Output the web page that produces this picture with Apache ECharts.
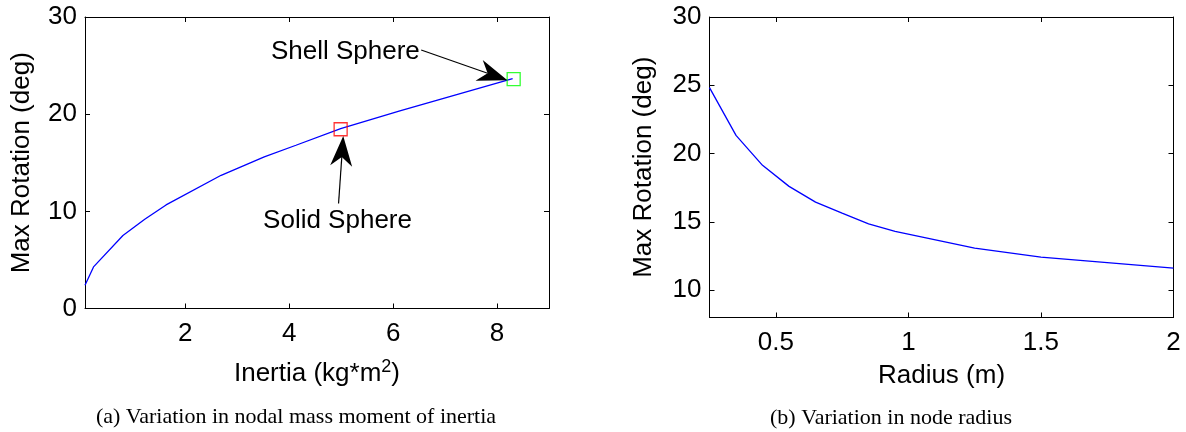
<!DOCTYPE html>
<html><head><meta charset="utf-8">
<script src="https://cdn.jsdelivr.net/npm/echarts@6/dist/echarts.min.js"></script>
<style>html,body{margin:0;padding:0;background:#fff}#c{width:1186px;height:432px}</style>
</head><body><div id="c"></div>
<script>
// ---- data ----
const inertia   = [0.07, 0.234, 0.80, 1.22, 1.63, 2.69, 3.52, 4.13, 4.99, 6.13, 8.30];
const rotationA = [2.4, 4.28, 7.51, 9.19, 10.66, 13.71, 15.6, 16.8, 18.52, 20.33, 23.66];
const radius    = [0.25, 0.35, 0.45, 0.55, 0.65, 0.75, 0.85, 0.95, 1.25, 1.5, 2.0];
const rotationB = [24.83, 21.33, 19.14, 17.6, 16.45, 15.64, 14.86, 14.3, 13.08, 12.42, 11.61];
const solidSphere = [4.99, 18.45];
const shellSphere = [8.32, 23.6];
const ticksXA = [2, 4, 6, 8];
const ticksYA = [0, 10, 20, 30];
const ticksXB = [0.5, 1, 1.5, 2];
const ticksYB = [10, 15, 20, 25, 30];
const captions = ['(a) Variation in nodal mass moment of inertia', '(b) Variation in node radius'];

// annotation anchors in data coordinates of panel (a)
const notes = [
  {text: 'Shell Sphere', at: [5.08, 26.4], tail: [6.54, 26.6], tip: [8.2, 23.5]},
  {text: 'Solid Sphere', at: [4.93, 9.0], tail: [4.95, 10.8], tip: [5.04, 17.75]}
];

const SANS = '"Liberation Sans", Arial, Helvetica, sans-serif';
const SERIF = '"Liberation Serif", "Times New Roman", serif';
const BLACK = '#000';

function xAx(grid, min, max, ticks, bottom, opts) {
  return Object.assign({
    type: 'value', gridIndex: grid, min: min, max: max,
    position: bottom ? 'bottom' : 'top',
    axisLine: {show: true, onZero: false, lineStyle: {color: BLACK, width: 1}},
    axisTick: {show: true, inside: true, length: 5, customValues: ticks, lineStyle: {color: BLACK}},
    axisLabel: bottom ? {show: true, customValues: ticks, color: BLACK, fontSize: 26, fontFamily: SANS, margin: 12}
                      : {show: false},
    splitLine: {show: false}
  }, opts || {});
}
function yAx(grid, min, max, ticks, left, opts) {
  return Object.assign({
    type: 'value', gridIndex: grid, min: min, max: max,
    position: left ? 'left' : 'right',
    axisLine: {show: true, onZero: false, lineStyle: {color: BLACK, width: 1}},
    axisTick: {show: true, inside: true, length: 5, customValues: ticks, lineStyle: {color: BLACK}},
    axisLabel: left ? {show: true, customValues: ticks, color: BLACK, fontSize: 26, fontFamily: SANS, margin: 8}
                    : {show: false},
    splitLine: {show: false}
  }, opts || {});
}

const nameStyle = {color: BLACK, fontSize: 26, fontFamily: SANS, lineHeight: 30};

const chart = echarts.init(document.getElementById('c'), null, {renderer: 'canvas'});
chart.setOption({
  animation: false,
  backgroundColor: '#fff',
  grid: [
    {left: 85, top: 17, width: 464, height: 291.5},
    {left: 709.5, top: 17, width: 464, height: 300.5}
  ],
  xAxis: [
    xAx(0, 0.07, 9, ticksXA, true, {
      name: '{n|Inertia (kg*m}{s|2}{n|)}', nameLocation: 'middle', nameGap: 50,
      nameTextStyle: {rich: {
        n: {color: BLACK, fontSize: 26, fontFamily: SANS, lineHeight: 30},
        s: {color: BLACK, fontSize: 18, fontFamily: SANS, lineHeight: 6, verticalAlign: 'top'}
      }}
    }),
    xAx(0, 0.07, 9, ticksXA, false),
    xAx(1, 0.25, 2, ticksXB, true, {
      name: 'Radius (m)', nameLocation: 'middle', nameGap: 42, nameTextStyle: nameStyle
    }),
    xAx(1, 0.25, 2, ticksXB, false)
  ],
  yAxis: [
    yAx(0, 0, 30, ticksYA, true, {
      interval: 10, name: 'Max Rotation (deg)', nameLocation: 'middle', nameRotate: 90, nameGap: 48, nameTextStyle: nameStyle
    }),
    yAx(0, 0, 30, ticksYA, false, {interval: 10}),
    yAx(1, 8, 30, ticksYB, true, {
      name: 'Max Rotation (deg)', nameLocation: 'middle', nameRotate: 90, nameGap: 51, nameTextStyle: nameStyle
    }),
    yAx(1, 8, 30, ticksYB, false)
  ],
  series: [
    {
      type: 'line', xAxisIndex: 0, yAxisIndex: 0, showSymbol: false, symbol: 'none',
      data: inertia.map((x, i) => [x, rotationA[i]]),
      lineStyle: {color: '#0000ff', width: 1.3}, silent: true, z: 2
    },
    {
      type: 'scatter', xAxisIndex: 0, yAxisIndex: 0, symbol: 'rect', symbolSize: 13,
      data: [solidSphere], silent: true, z: 3,
      itemStyle: {color: 'rgba(0,0,0,0)', borderColor: '#ff0000', borderWidth: 1.3}
    },
    {
      type: 'scatter', xAxisIndex: 0, yAxisIndex: 0, symbol: 'rect', symbolSize: 13,
      data: [shellSphere], silent: true, z: 3,
      itemStyle: {color: 'rgba(0,0,0,0)', borderColor: '#00ff00', borderWidth: 1.3}
    },
    {
      type: 'line', xAxisIndex: 2, yAxisIndex: 2, showSymbol: false, symbol: 'none',
      data: radius.map((x, i) => [x, rotationB[i]]),
      lineStyle: {color: '#0000ff', width: 1.3}, silent: true, z: 2
    }
  ]
});

// ---- annotations and captions ----
function px(p) { return chart.convertToPixel({xAxisIndex: 0, yAxisIndex: 0}, p); }
const graphics = [];
notes.forEach(n => {
  const at = px(n.at), tail = px(n.tail), tip = px(n.tip);
  const dx = tip[0] - tail[0], dy = tip[1] - tail[1];
  const len = Math.hypot(dx, dy), ux = dx / len, uy = dy / len;
  const pxp = -uy, pyp = ux;
  const L = 30, N = 21, W = 11;
  const notch = [tip[0] - ux * N, tip[1] - uy * N];
  graphics.push({
    type: 'text', z: 10, silent: true,
    style: {text: n.text, x: at[0], y: at[1], fill: BLACK, font: '26px ' + SANS, align: 'center', verticalAlign: 'middle'}
  });
  graphics.push({
    type: 'line', z: 10, silent: true,
    shape: {x1: tail[0], y1: tail[1], x2: notch[0], y2: notch[1]},
    style: {stroke: BLACK, lineWidth: 1.2}
  });
  graphics.push({
    type: 'polygon', z: 10, silent: true,
    shape: {points: [
      tip,
      [tip[0] - ux * L + pxp * W, tip[1] - uy * L + pyp * W],
      notch,
      [tip[0] - ux * L - pxp * W, tip[1] - uy * L - pyp * W]
    ]},
    style: {fill: BLACK}
  });
});
graphics.push({
  type: 'text', silent: true,
  style: {text: captions[0], x: 296, y: 417, fill: BLACK, font: '22px ' + SERIF, align: 'center', verticalAlign: 'middle'}
});
graphics.push({
  type: 'text', silent: true,
  style: {text: captions[1], x: 891, y: 418, fill: BLACK, font: '22px ' + SERIF, align: 'center', verticalAlign: 'middle'}
});
chart.setOption({graphic: graphics});
</script>
</body></html>
